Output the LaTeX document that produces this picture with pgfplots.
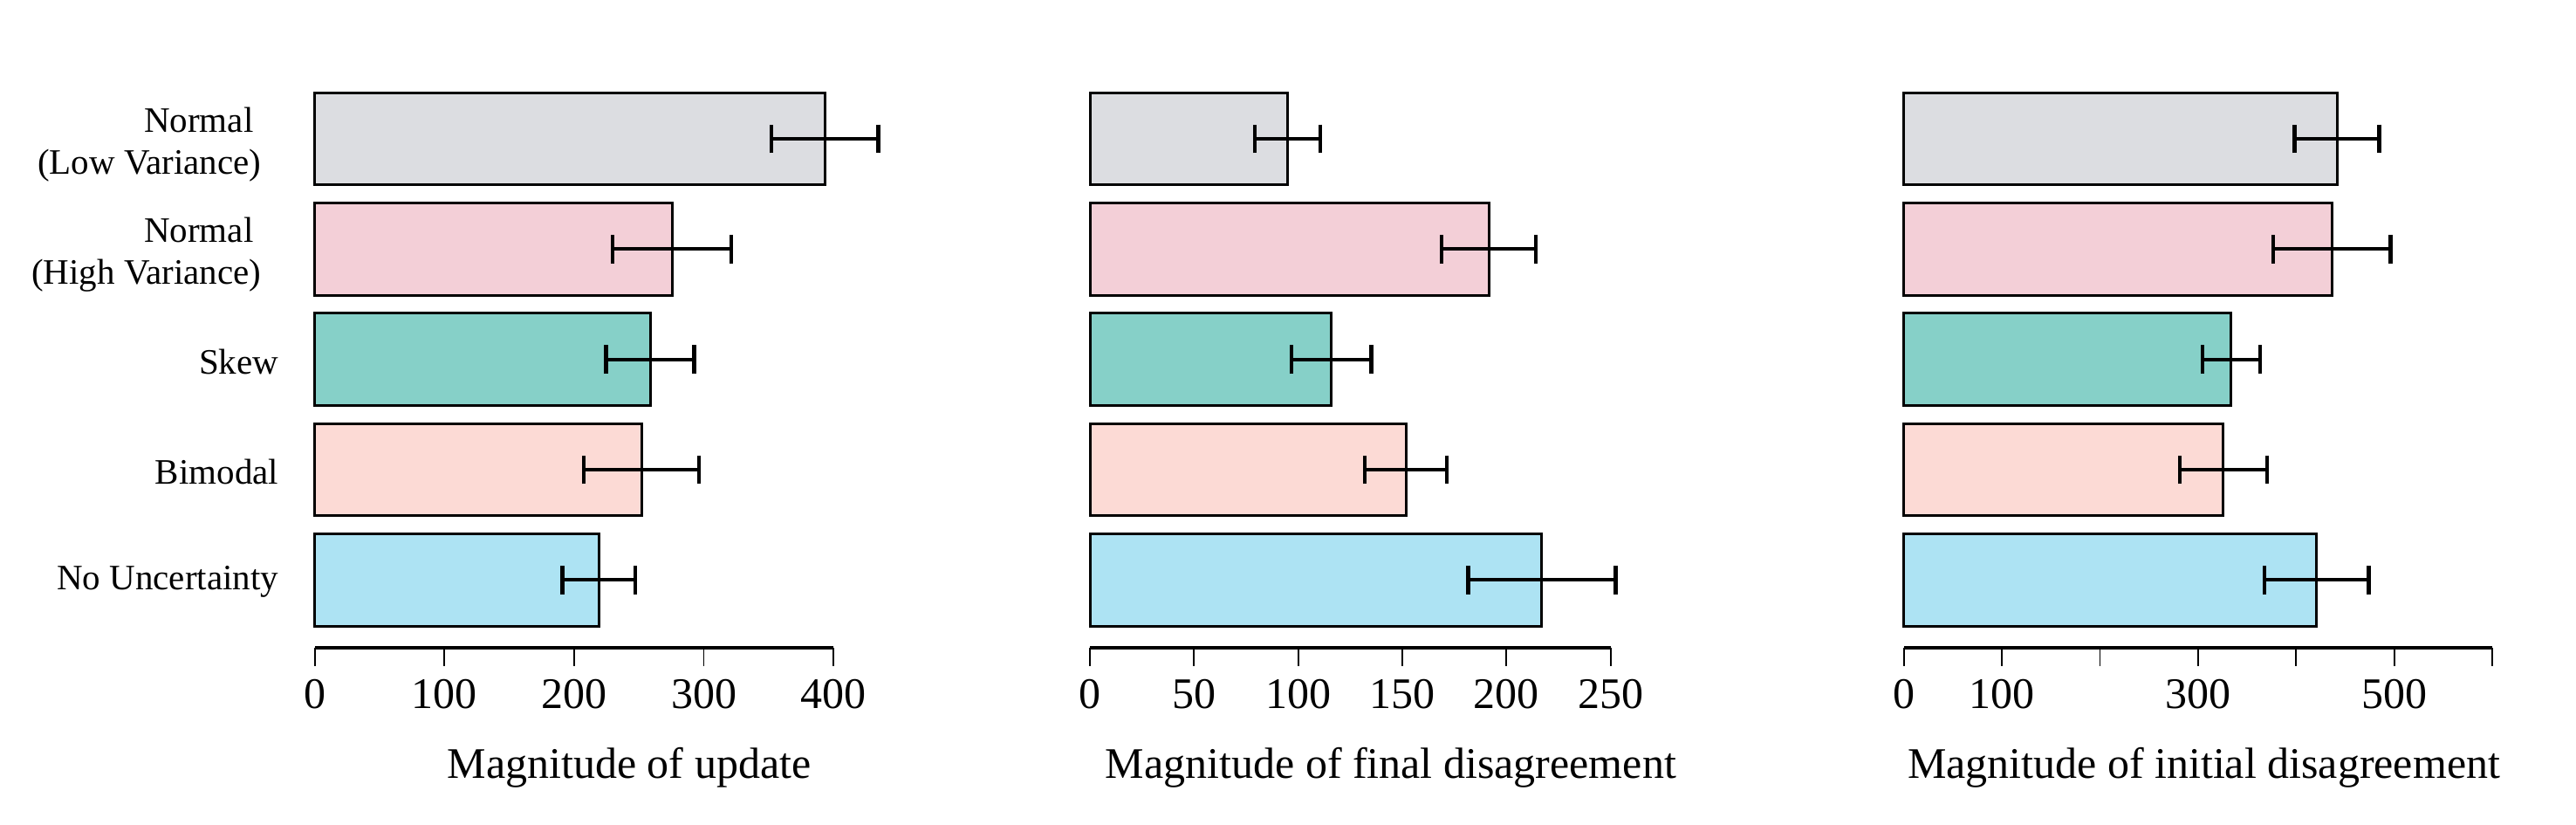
\documentclass[border=0pt]{standalone}
\usepackage{fontspec}
\setmainfont{Liberation Serif}
\usepackage{pgfplots}
\pgfplotsset{compat=1.18}

\definecolor{cLow}{HTML}{DCDDE1}
\definecolor{cHigh}{HTML}{F3CFD7}
\definecolor{cSkew}{HTML}{86D0C8}
\definecolor{cBim}{HTML}{FCDAD5}
\definecolor{cNone}{HTML}{ADE3F3}

\tikzset{catlab/.style={font=\fontsize{10.25}{12}\selectfont, align=right, anchor=east, inner sep=0pt, xshift=-5pt}}

\pgfplotsset{
  panel/.style={
    scale only axis, height=159pt,
    ymin=-0.615, ymax=4.42, xmin=0,
    axis x line*=bottom, axis y line*=left,
    y axis line style={draw=none},
    x axis line style={line width=0.8pt, -},
    tick align=outside, major tick length=5.2pt,
    xtick style={line width=0.45pt, black},
    ytick style={draw=none},
    xticklabel style={font=\fontsize{12.5}{15}\selectfont, anchor=base, inner sep=0pt, yshift=-12.2pt},
    xlabel style={font=\fontsize{12.5}{15}\selectfont, anchor=base, yshift=-37.4pt},
    clip=false,
    xbar, bar width=0.8375, bar shift=0pt,
  },
  br/.style={fill=#1, draw=black, line width=0.75pt,
    error bars/.cd, x dir=both, x explicit, error mark=|,
    error bar style={line width=1pt, black},
    error mark options={line width=1.1pt, mark size=4.1pt, black}},
}

\begin{document}
\begin{tikzpicture}
\path[use as bounding box] (0,0) rectangle (738pt,236pt);

% panel 1: update
\begin{axis}[panel, at={(90.2pt,50.5pt)}, anchor=south west, width=148.6pt,
  xmax=400, xtick={0,100,200,300,400}, xticklabels={0,100,200,300,400},
  ytick={0,1,2},
  yticklabels={No Uncertainty, Bimodal, Skew},
  yticklabel style={catlab, yshift=-0.6pt},
  extra y ticks={3,4},
  extra y tick labels={Normal\rule{2.2pt}{0pt}\\(High Variance), Normal\rule{2.2pt}{0pt}\\(Low Variance)},
  extra y tick style={ytick style={draw=none}, yticklabel style={catlab, yshift=-1.0pt}},
  xlabel={Magnitude of update},
  xlabel style={at={(axis description cs:0.606,0)}},
]
\addplot[br=cNone] coordinates {(218.9,0) +- (28.1,0)};
\addplot[br=cBim]  coordinates {(251.9,1) +- (44.5,0)};
\addplot[br=cSkew] coordinates {(258.6,2) +- (34.0,0)};
\addplot[br=cHigh] coordinates {(275.4,3) +- (45.7,0)};
\addplot[br=cLow]  coordinates {(393.2,4) +- (41.3,0)};
\end{axis}

% panel 2: final disagreement
\begin{axis}[panel, at={(312.25pt,50.5pt)}, anchor=south west, width=149.15pt,
  xmax=250, xtick={0,50,100,150,200,250}, xticklabels={0,50,100,150,200,250},
  ytick=\empty,
  xlabel={Magnitude of final disagreement},
  xlabel style={at={(axis description cs:0.578,0)}},
]
\addplot[br=cNone] coordinates {(217.0,0) +- (35.4,0)};
\addplot[br=cBim]  coordinates {(151.7,1) +- (19.6,0)};
\addplot[br=cSkew] coordinates {(116.0,2) +- (19.1,0)};
\addplot[br=cHigh] coordinates {(191.5,3) +- (22.7,0)};
\addplot[br=cLow]  coordinates {(94.8,4) +- (15.7,0)};
\end{axis}

% panel 3: initial disagreement
\begin{axis}[panel, at={(545.4pt,50.5pt)}, anchor=south west, width=168.6pt,
  xmax=600, xtick={0,100,200,300,400,500,600}, xticklabels={0,100,,300,,500,},
  ytick=\empty,
  xlabel={Magnitude of initial disagreement},
  xlabel style={at={(axis description cs:0.510,0)}},
]
\addplot[br=cNone] coordinates {(420.8,0) +- (53.2,0)};
\addplot[br=cBim]  coordinates {(325.8,1) +- (44.5,0)};
\addplot[br=cSkew] coordinates {(333.9,2) +- (29.5,0)};
\addplot[br=cHigh] coordinates {(436.4,3) +- (60.0,0)};
\addplot[br=cLow]  coordinates {(441.7,4) +- (43.2,0)};
\end{axis}
\end{tikzpicture}
\end{document}
